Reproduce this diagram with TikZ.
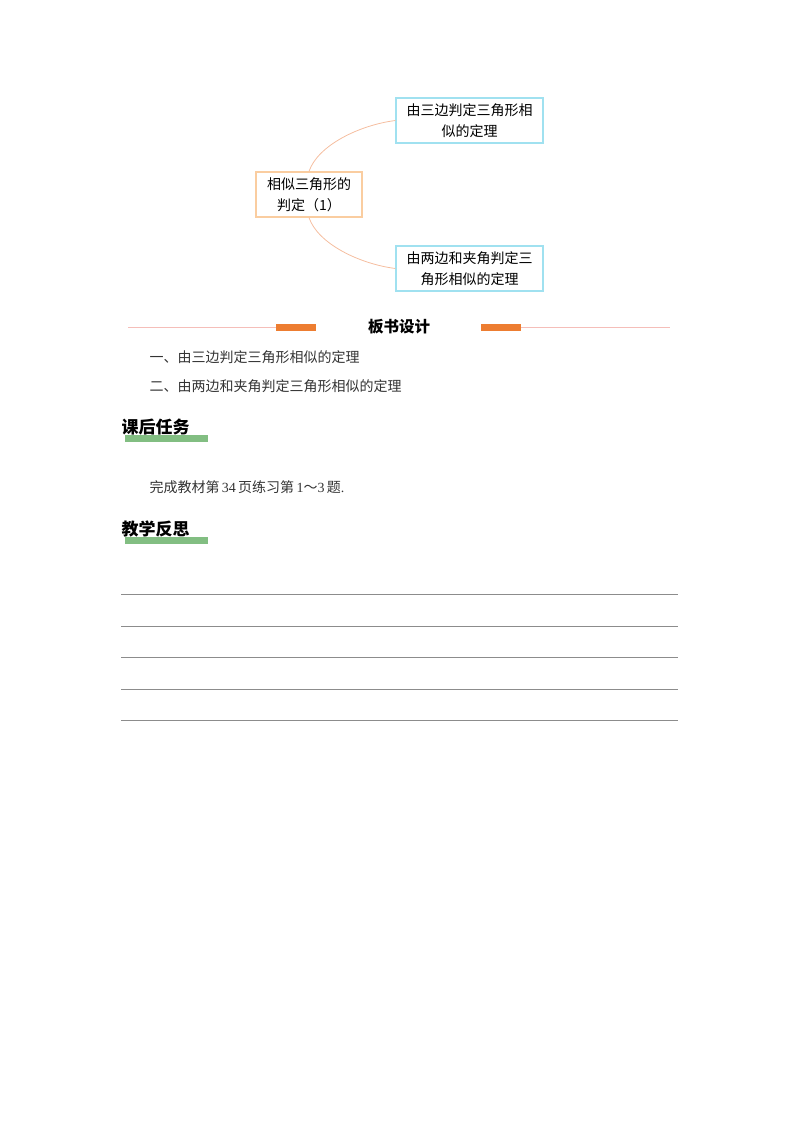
\documentclass[tikz,border=0pt]{standalone}
\usepackage{fontspec}
\setmainfont{Liberation Serif}
\newfontfamily\cjk{Noto Sans CJK SC}
\definecolor{boxo}{RGB}{250,205,160}
\definecolor{boxb}{RGB}{160,225,240}
\definecolor{connc}{RGB}{245,190,160}
\definecolor{linec}{RGB}{245,190,185}
\definecolor{gb}{RGB}{130,190,130}
\definecolor{ob}{RGB}{237,125,49}
\begin{document}
\begin{tikzpicture}[x=1pt,y=-1pt,
  box/.style={draw=#1,line width=1.2pt,minimum width=147pt,minimum height=45pt,align=center,inner sep=2pt,font=\cjk\fontsize{14}{21}\selectfont},
  conn/.style={draw=connc,line width=0.8pt},
  body/.style={anchor=west,font=\cjk\fontsize{14}{16}\selectfont,text=black!80},
  head/.style={anchor=west,font=\cjk\bfseries\fontsize{17}{19}\selectfont},
  gbar/.style={fill=gb},
  obar/.style={fill=ob},
  rule/.style={draw=black!45,line width=0.6pt}]
\useasboundingbox (0,0) rectangle (800,1132);
\node[box=boxo,minimum width=106pt] (c) at (309,194.5) {相似三角形的\\判定（1）};
\node[box=boxb] (t) at (469.5,120.5) {由三边判定三角形相\\似的定理};
\node[box=boxb] (b) at (469.5,268.5) {由两边和夹角判定三\\角形相似的定理};
\draw[conn] (c.north) .. controls (318,145) and (360,125) .. (t.west);
\draw[conn] (c.south) .. controls (318,244) and (360,264) .. (b.west);
\coordinate (l1) at (128,327); \coordinate (l2) at (670,327);
\draw[draw=linec,line width=0.6pt] (l1) -- (l2);
\fill[white] (316,318) rectangle (481,336);
\fill[obar] (276,323.5) rectangle (316,330.5);
\fill[obar] (481,323.5) rectangle (521,330.5);
\node[font=\cjk\bfseries\fontsize{15.5}{17}\selectfont] (tt) at (399,327) {板书设计};
\node[body] (a1) at (146,357) {一、由三边判定三角形相似的定理};
\node[body] (a2) at (146,386) {二、由两边和夹角判定三角形相似的定理};
\fill[gbar] (125,435) rectangle (208,442);
\node[head] (h1) at (118,427) {课后任务};
\node[body] (p) at (146,487) {完成教材第\,{\rmfamily 34}\,页练习第\,{\rmfamily 1}～{\rmfamily 3}\,题{\rmfamily .}};
\fill[gbar] (125,537) rectangle (208,544);
\node[head] (h2) at (118,529) {教学反思};
\foreach \y in {594,626,657,689,720}{\draw[rule] (121,\y) -- (678,\y);}
\end{tikzpicture}
\end{document}
